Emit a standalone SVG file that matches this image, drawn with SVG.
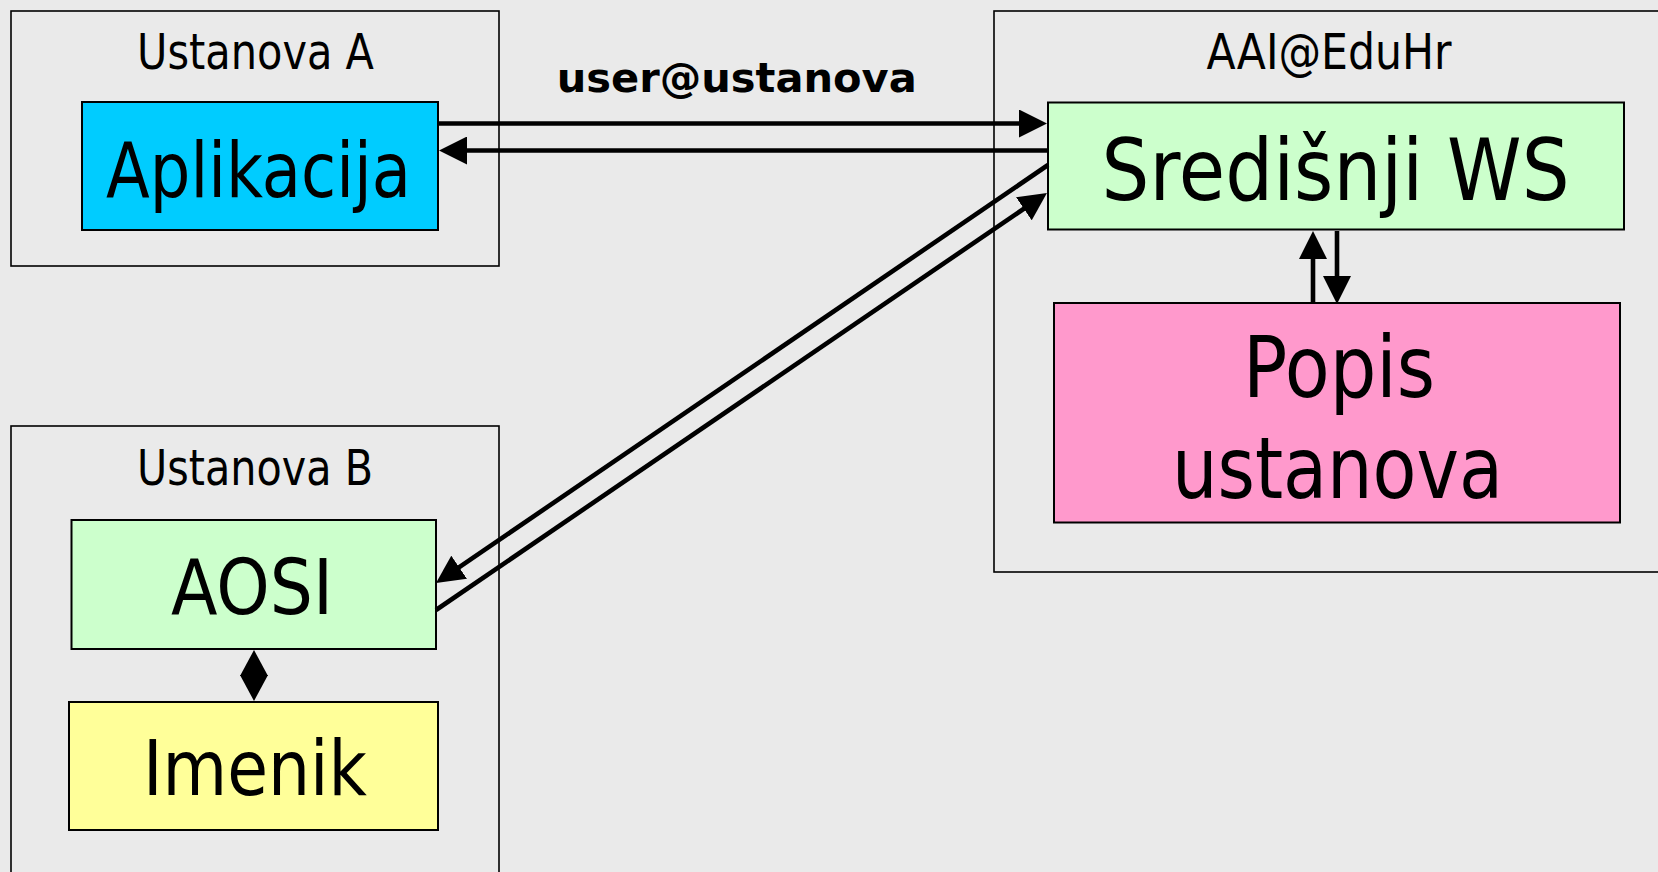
<svg xmlns="http://www.w3.org/2000/svg" width="1658" height="872" viewBox="0 0 1658 872">
<style>
.bg{fill:#eaeaea}
.box{fill:none;stroke:#000;stroke-width:1.6}
.node{stroke:#000;stroke-width:2}
.t{font-family:"DejaVu Sans","Liberation Sans",sans-serif;fill:#000;text-anchor:middle}
.lbl{font-size:49px}
.big{font-size:76px}
.huge{font-size:86px}
.bold{font-size:41px;font-weight:bold}
.con{stroke:#000;stroke-width:4.6;fill:none}
</style>
<defs>
<marker id="ah" markerUnits="userSpaceOnUse" markerWidth="28" markerHeight="28" refX="18" refY="14" orient="auto-start-reverse">
<path d="M0,0 L28,14 L0,28 z" fill="#000"/>
</marker>
<marker id="ahs" markerUnits="userSpaceOnUse" markerWidth="26" markerHeight="28" refX="16" refY="14" orient="auto-start-reverse">
<path d="M0,0 L26,14 L0,28 z" fill="#000"/>
</marker>
</defs>
<rect class="bg" x="0" y="0" width="1658" height="872"/>

<g id="ustanova-a">
<rect class="box" x="11" y="11" width="488" height="255"/>
<text class="t lbl" x="255.5" y="69" textLength="237" lengthAdjust="spacingAndGlyphs">Ustanova A</text>
</g>
<g id="ustanova-b">
<rect class="box" x="11" y="426" width="488" height="470"/>
<text class="t lbl" x="255" y="485" textLength="236" lengthAdjust="spacingAndGlyphs">Ustanova B</text>
</g>
<g id="aai-eduhr">
<rect class="box" x="994" y="11" width="700" height="561"/>
<text class="t lbl" x="1329" y="69" textLength="245" lengthAdjust="spacingAndGlyphs">AAI@EduHr</text>
</g>

<g id="aplikacija">
<rect class="node" x="82" y="102" width="356" height="128" fill="#00ccff"/>
<text class="t big" x="258.5" y="197" font-size="77" textLength="305" lengthAdjust="spacingAndGlyphs">Aplikacija</text>
</g>
<g id="sredisnji-ws">
<rect class="node" x="1048" y="102.5" width="576" height="127" fill="#ccffcc"/>
<text class="t huge" x="1335.6" y="200" textLength="468" lengthAdjust="spacingAndGlyphs">Središnji WS</text>
</g>
<g id="popis-ustanova">
<rect class="node" x="1054" y="303" width="566" height="219.5" fill="#ff99cc"/>
<text class="t huge" x="1339" y="397" textLength="192" lengthAdjust="spacingAndGlyphs">Popis</text>
<text class="t huge" x="1337.5" y="498" textLength="331" lengthAdjust="spacingAndGlyphs">ustanova</text>
</g>
<g id="aosi">
<rect class="node" x="71.5" y="520" width="364.5" height="129" fill="#ccffcc"/>
<text class="t big" x="252" y="614" font-size="75" textLength="162" lengthAdjust="spacingAndGlyphs">AOSI</text>
</g>
<g id="imenik">
<rect class="node" x="69" y="702" width="369" height="128" fill="#ffff99"/>
<text class="t big" x="255" y="795" font-size="73" textLength="224" lengthAdjust="spacingAndGlyphs">Imenik</text>
</g>

<text class="t bold" x="736.7" y="92.3" textLength="360" lengthAdjust="spacingAndGlyphs">user@ustanova</text>

<g id="connectors">
<line class="con" x1="438" y1="123.5" x2="1037" y2="123.5" marker-end="url(#ah)"/>
<line class="con" x1="1048" y1="150.5" x2="449" y2="150.5" marker-end="url(#ah)"/>
<line class="con" x1="1048" y1="165" x2="444.3" y2="577.4" marker-end="url(#ah)"/>
<line class="con" x1="436" y1="610" x2="1038.7" y2="198.6" marker-end="url(#ah)"/>
<line class="con" x1="1313" y1="303" x2="1313" y2="241" marker-end="url(#ah)"/>
<line class="con" x1="1337" y1="231" x2="1337" y2="294" marker-end="url(#ah)"/>
<line class="con" x1="254" y1="660" x2="254" y2="691" marker-start="url(#ahs)" marker-end="url(#ahs)"/>
</g>
</svg>
